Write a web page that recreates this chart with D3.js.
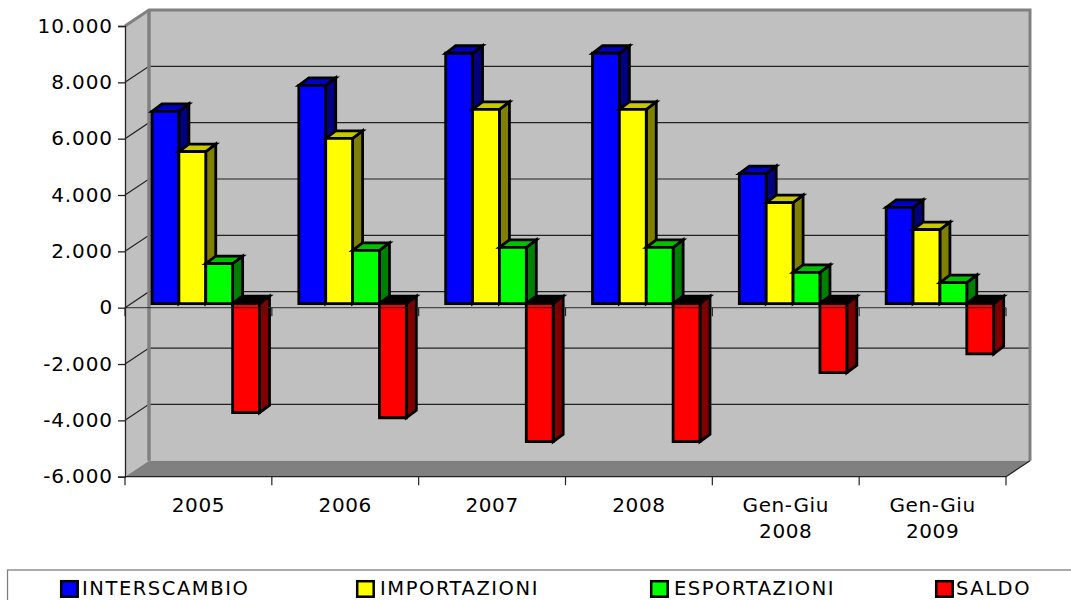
<!DOCTYPE html>
<html><head><meta charset="utf-8">
<style>html,body{margin:0;padding:0;background:#fff}svg{display:block}text{font-family:"DejaVu Sans",sans-serif;fill:#000}</style>
<script src="https://cdn.jsdelivr.net/npm/d3@7/dist/d3.min.js"></script>
</head><body><svg id="c" width="1071" height="600"></svg>
<script>
const categories=[["2005"],["2006"],["2007"],["2008"],["Gen-Giu","2008"],["Gen-Giu","2009"]];
const seriesNames=["INTERSCAMBIO","IMPORTAZIONI","ESPORTAZIONI","SALDO"];
const interscambio=[6830,7750,8890,8890,4620,3420];
const importazioni=[5400,5870,6900,6900,3590,2630];
const esportazioni=[1420,1890,2000,2000,1110,750];
const saldo=[-3870,-4050,-4900,-4900,-2450,-1780];
const yTicks=[-6000,-4000,-2000,0,2000,4000,6000,8000,10000];
const frontColors=["#0000ff","#ffff00","#00ff00","#ff0000"];
const topColors=["#0000c0","#c8c800","#00c000","#000000"];
const sideColors=["#000080","#808000","#008000","#800000"];
const allSeries=[interscambio,importazioni,esportazioni,saldo];

const svg=d3.select("#c");
const W=[125,1006],Y=[476.7,26],wallDx=24,wallDy=-16,barDx=7,barDy=-4,depthDx=10,depthDy=-7.5;
const x=d3.scaleBand().domain(d3.range(categories.length)).range(W);
const y=d3.scaleLinear().domain([-6000,10000]).range(Y);
const inner=d3.scaleBand().domain(d3.range(4)).range([20,20+107.5]);
const fmt=v=>d3.format(",")(v).replace(/,/g,".").replace("\u2212","-");
const poly=(p,fill,stroke,sw)=>svg.append("polygon").attr("points",p.map(a=>a.join(",")).join(" ")).attr("fill",fill).attr("stroke",stroke||"none").attr("stroke-width",sw||0).attr("stroke-linejoin","miter");

// walls
poly([[W[0],Y[0]],[W[0],Y[1]],[W[0]+wallDx,Y[1]+wallDy],[W[0]+wallDx,Y[0]+wallDy]],"#c0c0c0");
poly([[W[0]+wallDx,Y[1]+wallDy],[W[1]+wallDx,Y[1]+wallDy],[W[1]+wallDx,Y[0]+wallDy],[W[0]+wallDx,Y[0]+wallDy]],"#c0c0c0");
poly([[W[0],Y[0]],[W[0]+wallDx,Y[0]+wallDy],[W[1]+wallDx,Y[0]+wallDy],[W[1],Y[0]]],"#808080");
// gridlines
yTicks.forEach(t=>{
  if(t===-6000||t===10000)return;
  svg.append("path").attr("d",`M${W[0]},${y(t)}L${W[0]+wallDx},${y(t)+wallDy}H${W[1]+wallDx}`).attr("fill","none").attr("stroke","#222").attr("stroke-width",1.2);
});
// wall frame
svg.append("path").attr("d",`M${W[0]},${Y[1]}L${W[0]+wallDx},${Y[1]+wallDy}H${W[1]+wallDx}V${Y[0]+wallDy}`).attr("fill","none").attr("stroke","#808080").attr("stroke-width",3);
svg.append("path").attr("d",`M${W[0]+wallDx},${Y[1]+wallDy}V${Y[0]+wallDy}`).attr("fill","none").attr("stroke","#808080").attr("stroke-width",3.5);
svg.append("path").attr("d",`M${W[1]},${Y[0]}L${W[1]+wallDx},${Y[0]+wallDy}`).attr("fill","none").attr("stroke","#222").attr("stroke-width",1.2);

// bars
const bw=inner.bandwidth();
categories.forEach((c,i)=>{
  allSeries.forEach((s,k)=>{
    const v=s[i],xl=x(i)+inner(k)+barDx,xr=xl+bw,yT=y(Math.max(v,0))+barDy,yB=y(Math.min(v,0))+barDy;
    const o={stroke:"#000",sw:2.8};
    poly([[xr,yT],[xr+depthDx,yT+depthDy],[xr+depthDx,yB+depthDy],[xr,yB]],sideColors[k],o.stroke,o.sw);
    poly([[xl,yT],[xl+depthDx,yT+depthDy],[xr+depthDx,yT+depthDy],[xr,yT]],topColors[k],o.stroke,o.sw);
    poly([[xl,yT],[xr,yT],[xr,yB],[xl,yB]],frontColors[k],o.stroke,o.sw);
  });
});

// axes
const yAxis=d3.axisLeft(y).tickValues(yTicks).tickFormat(fmt).tickSize(7).tickPadding(5);
const gy=svg.append("g").attr("transform",`translate(${W[0]},0)`).call(yAxis);
gy.selectAll("text").attr("font-size",20).attr("letter-spacing",.9).style("font-family",'"DejaVu Sans",sans-serif').attr("dy","0.3em").attr("fill","#000");
gy.selectAll("line,path").attr("stroke","#222").attr("stroke-width",1.3);

const xEdges=d3.range(categories.length+1).map(i=>i<categories.length?x(i):W[1]);
svg.append("line").attr("x1",W[0]).attr("x2",W[1]).attr("y1",y(0)).attr("y2",y(0)).attr("stroke","#222").attr("stroke-opacity",.75).attr("stroke-width",1.3);
svg.append("line").attr("x1",W[0]).attr("x2",W[1]).attr("y1",y(-6000)).attr("y2",y(-6000)).attr("stroke","#222").attr("stroke-width",1.3);
xEdges.forEach(e=>{
  svg.append("line").attr("x1",e).attr("x2",e).attr("y1",y(0)).attr("y2",y(0)+8.5).attr("stroke","#222").attr("stroke-width",1.2);
  svg.append("line").attr("x1",e).attr("x2",e).attr("y1",y(-6000)).attr("y2",y(-6000)+8.5).attr("stroke","#222").attr("stroke-width",1.2);
});
categories.forEach((c,i)=>{
  const t=svg.append("text").attr("text-anchor","middle").attr("font-size",20).attr("letter-spacing",.6);
  c.forEach((l,j)=>t.append("tspan").attr("x",x(i)+x.bandwidth()/2).attr("y",c.length===1?512:512+j*25.5).text(l));
});

// legend
svg.append("rect").attr("x",7.5).attr("y",570).attr("width",1080).attr("height",60).attr("fill","#fff").attr("stroke","#808080").attr("stroke-width",1.3);
const swatchX=[61.2,357.2,651.2,936.2],labelX=[82,380,674,956];
seriesNames.forEach((n,k)=>{
  svg.append("rect").attr("x",swatchX[k]).attr("y",581.2).attr("width",16.5).attr("height",15.5).attr("fill",frontColors[k]).attr("stroke","#000").attr("stroke-width",2.5);
  svg.append("text").attr("x",labelX[k]).attr("y",595.4).attr("font-size",19.5).attr("letter-spacing",1.55).text(n);
});
</script></body></html>
